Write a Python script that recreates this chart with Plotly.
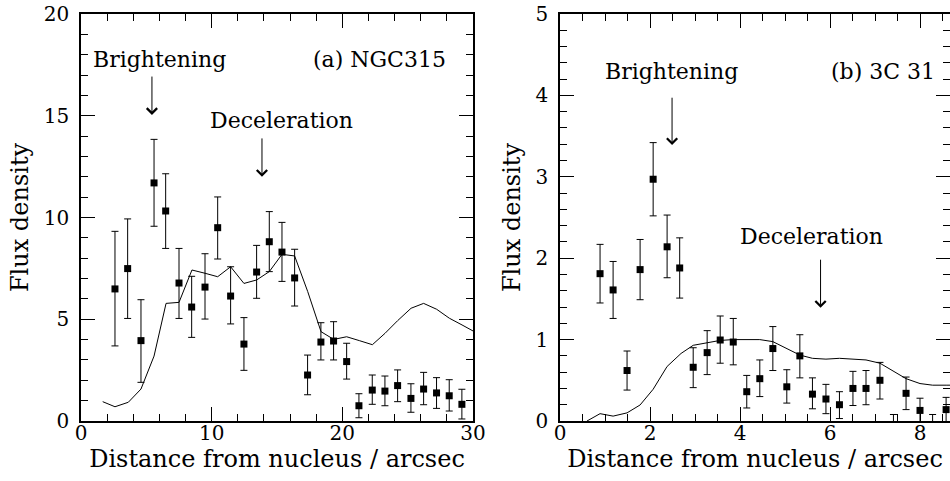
import plotly.graph_objects as go

# ---------------- Panel (a) NGC315 ----------------
xa = [2.6, 3.57, 4.59, 5.59, 6.48, 7.5, 8.47, 9.49, 10.46, 11.45, 12.47, 13.44, 14.41, 15.38,
      16.35, 17.34, 18.36, 19.33, 20.33, 21.27, 22.29, 23.26, 24.23, 25.25, 26.22, 27.21, 28.18, 29.15]
ya = [6.49, 7.49, 3.95, 11.70, 10.32, 6.78, 5.60, 6.58, 9.50, 6.14, 3.78, 7.32, 8.81, 8.30,
      7.03, 2.26, 3.88, 3.93, 2.92, 0.75, 1.52, 1.47, 1.74, 1.11, 1.57, 1.38, 1.24, 0.82]
ya_hi = [9.32, 9.93, 5.96, 13.84, 12.15, 8.48, 7.11, 8.22, 11.01, 7.58, 5.08, 8.63, 10.29, 9.76,
         8.44, 3.24, 4.83, 4.88, 3.82, 1.34, 2.26, 2.21, 2.51, 1.83, 2.39, 2.13, 2.03, 1.56]
ya_lo = [3.69, 5.04, 1.90, 9.57, 8.48, 5.04, 4.11, 5.01, 7.96, 4.77, 2.49, 6.03, 7.34, 6.86,
         5.65, 1.29, 3.00, 3.00, 2.06, 0.16, 0.82, 0.75, 0.95, 0.43, 0.80, 0.62, 0.49, 0.10]

model_xa = [1.66, 2.60, 3.62, 4.59, 5.59, 6.51, 7.50, 8.49, 9.49, 10.46, 11.45, 12.47, 13.44, 14.41,
            15.38, 16.35, 17.35, 18.37, 19.34, 20.33, 21.30, 22.30, 23.27, 24.23, 25.26, 26.22,
            27.22, 28.19, 29.16, 30.13]
model_ya = [0.95, 0.70, 0.92, 1.57, 3.19, 5.78, 5.83, 7.42, 7.26, 7.09, 7.58, 6.76, 6.93, 7.34,
            8.19, 8.11, 6.36, 4.39, 4.01, 4.14, 3.95, 3.75, 4.31, 4.93, 5.54, 5.78,
            5.49, 5.05, 4.72, 4.38]

# ---------------- Panel (b) 3C 31 ----------------
xb = [0.89, 1.18, 1.49, 1.78, 2.07, 2.38, 2.66, 2.96, 3.27, 3.56, 3.85, 4.15, 4.44, 4.73,
      5.04, 5.33, 5.61, 5.91, 6.21, 6.51, 6.80, 7.11, 7.41, 7.69, 8.00, 8.28, 8.58]
yb = [1.81, 1.61, 0.62, 1.86, 2.97, 2.14, 1.88, 0.66, 0.84, 0.995, 0.97, 0.36, 0.52, 0.89,
      0.42, 0.80, 0.33, 0.27, 0.20, 0.40, 0.40, 0.50, -0.08, 0.34, 0.13, -0.06, 0.14]
yb_hi = [2.17, 1.96, 0.86, 2.23, 3.42, 2.53, 2.25, 0.90, 1.11, 1.29, 1.26, 0.56, 0.75, 1.16,
         0.63, 1.06, 0.53, 0.45, 0.36, 0.61, 0.62, 0.72, 0.08, 0.54, 0.28, 0.08, 0.29]
yb_lo = [1.45, 1.26, 0.38, 1.49, 2.52, 1.76, 1.51, 0.41, 0.57, 0.71, 0.69, 0.16, 0.30, 0.62,
         0.22, 0.53, 0.15, 0.09, 0.03, 0.19, 0.20, 0.27, -0.24, 0.14, -0.02, -0.20, -0.01]

model_xb = [0.60, 0.89, 1.18, 1.49, 1.78, 2.07, 2.38, 2.69, 2.96, 3.27, 3.56, 3.85, 4.15, 4.44,
            4.73, 5.04, 5.33, 5.61, 5.91, 6.21, 6.51, 6.80, 7.11, 7.41, 7.69, 8.00, 8.28, 8.58, 8.90]
model_yb = [0.0, 0.09, 0.06, 0.10, 0.197, 0.39, 0.67, 0.83, 0.93, 0.96, 0.99, 1.0, 1.0, 1.0,
            0.975, 0.89, 0.81, 0.77, 0.76, 0.77, 0.76, 0.75, 0.71, 0.61, 0.52, 0.46, 0.44, 0.44, 0.44]

FONT = "DejaVu Serif"
FS_TICK = 20
FS_TEXT = 22
FS_TITLE = 24
BLACK = "black"


def err(y, hi, lo):
    return dict(type="data", symmetric=False,
                array=[h - v for h, v in zip(hi, y)],
                arrayminus=[v - l for v, l in zip(y, lo)],
                color=BLACK, thickness=1, width=3.5)


fig = go.Figure()
fig.add_trace(go.Scatter(x=model_xa, y=model_ya, mode="lines", line=dict(color=BLACK, width=1),
                         xaxis="x", yaxis="y", showlegend=False))
fig.add_trace(go.Scatter(x=xa, y=ya, mode="markers", marker=dict(symbol="square", size=7, color=BLACK),
                         error_y=err(ya, ya_hi, ya_lo), xaxis="x", yaxis="y", showlegend=False,
                         cliponaxis=True))
fig.add_trace(go.Scatter(x=model_xb, y=model_yb, mode="lines", line=dict(color=BLACK, width=1),
                         xaxis="x2", yaxis="y2", showlegend=False))
fig.add_trace(go.Scatter(x=xb, y=yb, mode="markers", marker=dict(symbol="square", size=7, color=BLACK),
                         error_y=err(yb, yb_hi, yb_lo), xaxis="x2", yaxis="y2", showlegend=False,
                         cliponaxis=True))


def axis(rng, dtick, minor, domain, anchor, title, standoff, lab_standoff):
    return dict(range=rng, dtick=dtick, tick0=0, domain=domain, anchor=anchor,
                automargin=False,
                showgrid=False, zeroline=False, showline=True, linecolor=BLACK, linewidth=1.5,
                mirror="ticks", ticks="inside", ticklen=14, tickwidth=1, tickcolor=BLACK,
                ticklabelstandoff=lab_standoff,
                minor=dict(dtick=minor, tick0=0, ticks="inside", ticklen=7, tickwidth=1,
                           tickcolor=BLACK, showgrid=False),
                tickfont=dict(family=FONT, size=FS_TICK, color=BLACK),
                title=dict(text=title, standoff=standoff,
                           font=dict(family=FONT, size=FS_TITLE, color=BLACK)))


L_END = 392 / 869
R_START = 479 / 869
XT = "Distance from nucleus / arcsec"
YT = "Flux density"

fig.update_layout(
    width=950, height=481,
    margin=dict(l=81, r=0, t=14, b=60, autoexpand=False),
    paper_bgcolor="white", plot_bgcolor="white",
    xaxis=axis([0, 30], 10, 2, [0, L_END], "y", XT, 2, -7),
    yaxis=axis([0, 20], 5, 1, [0, 1], "x", YT, 8, 6),
    xaxis2=axis([0, 390 / 45], 2, 0.5, [R_START, 1], "y2", XT, 2, -7),
    yaxis2=axis([0, 5], 1, 0.2, [0, 1], "x2", YT, 8, 6),
)


def label(text, x, y, xr, yr):
    fig.add_annotation(text=text, x=x, y=y, xref=xr, yref=yr, showarrow=False,
                       font=dict(family=FONT, size=FS_TEXT, color=BLACK))


def arrow(x, y_head, y_tail, xr, yr):
    fig.add_annotation(x=x, y=y_head, ax=x, ay=y_tail, xref=xr, yref=yr, axref=xr, ayref=yr,
                       showarrow=True, arrowhead=4, arrowsize=2, arrowwidth=1,
                       arrowcolor=BLACK, text="")


label("Brightening", 6.04, 17.74, "x", "y")
label("(a) NGC315", 22.88, 17.74, "x", "y")
label("Deceleration", 15.38, 14.79, "x", "y")
arrow(5.43, 15.04, 17.0, "x", "y")
arrow(13.85, 12.0, 13.96, "x", "y")

label("Brightening", 2.47, 4.29, "x2", "y2")
label("(b) 3C 31", 7.18, 4.29, "x2", "y2")
label("Deceleration", 5.59, 2.27, "x2", "y2")
arrow(2.49, 3.39, 3.99, "x2", "y2")
arrow(5.79, 1.39, 2.0, "x2", "y2")

fig.write_html("out.html", config={"displayModeBar": False},
               post_script="document.body.style.margin='0px';document.body.style.overflow='hidden';")
